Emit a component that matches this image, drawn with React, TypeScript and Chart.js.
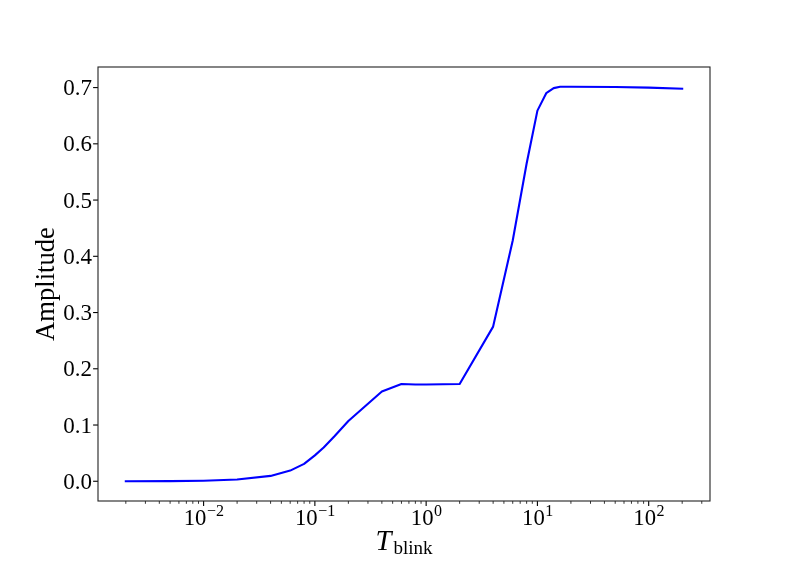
import React, { useEffect, useRef } from 'react';
import { Chart, registerables } from 'chart.js';

Chart.register(...registerables);

// ---- data ----
const T_BLINK = [0.002, 0.005, 0.01, 0.02, 0.04, 0.06, 0.08, 0.1, 0.12, 0.15, 0.2, 0.4, 0.6, 0.8, 1, 2, 4, 6, 8, 10, 12, 14, 16, 20, 50, 100, 200];
const AMPLITUDE = [0.0, 0.0003, 0.001, 0.003, 0.0095, 0.019, 0.031, 0.046, 0.06, 0.08, 0.107, 0.1595, 0.173, 0.172, 0.172, 0.173, 0.275, 0.428, 0.565, 0.659, 0.69, 0.699, 0.7015, 0.7015, 0.701, 0.7, 0.698];

const Y_TICKS = [0, 0.1, 0.2, 0.3, 0.4, 0.5, 0.6, 0.7];
const X_MAJOR = [0.01, 0.1, 1, 10, 100];
const X_MAJOR_EXP = ['\u22122', '\u22121', '0', '1', '2'];
const X_LABEL_MAIN = 'T';
const X_LABEL_SUB = 'blink';
const Y_LABEL = 'Amplitude';

const X_MIN = Math.pow(10, -2.949);
const X_MAX = Math.pow(10, 2.551);
const Y_MIN = -0.0351;
const Y_MAX = 0.7366;

const SERIF = '"Liberation Serif", "DejaVu Serif", serif';

const axesPlugin = {
  id: 'mplAxes',
  afterDraw(chart: any) {
    const ctx: CanvasRenderingContext2D = chart.ctx;
    const xs = chart.scales.x;
    const ys = chart.scales.y;
    const a = chart.chartArea;
    ctx.save();
    ctx.fillStyle = '#000';
    ctx.strokeStyle = '#000';

    // y ticks + labels
    ctx.lineWidth = 1.1;
    ctx.font = `23px ${SERIF}`;
    ctx.textAlign = 'right';
    ctx.textBaseline = 'alphabetic';
    for (const v of Y_TICKS) {
      const py = ys.getPixelForValue(v);
      ctx.beginPath();
      ctx.moveTo(a.left - 4.9, py);
      ctx.lineTo(a.left, py);
      ctx.stroke();
      ctx.fillText(v.toFixed(1), 92, py + 7.5);
    }

    // x minor ticks
    ctx.lineWidth = 0.8;
    for (let e = -4; e <= 3; e++) {
      for (let k = 2; k <= 9; k++) {
        const v = k * Math.pow(10, e);
        if (v < X_MIN || v > X_MAX) continue;
        const px = xs.getPixelForValue(v);
        ctx.beginPath();
        ctx.moveTo(px, a.bottom);
        ctx.lineTo(px, a.bottom + 2.8);
        ctx.stroke();
      }
    }
    // x major ticks + labels
    ctx.lineWidth = 1.1;
    X_MAJOR.forEach((v, i) => {
      const px = xs.getPixelForValue(v);
      ctx.beginPath();
      ctx.moveTo(px, a.bottom);
      ctx.lineTo(px, a.bottom + 4.9);
      ctx.stroke();
      const baseFont = `22.7px ${SERIF}`;
      const supFont = `16px ${SERIF}`;
      ctx.font = baseFont;
      const w1 = ctx.measureText('10').width;
      ctx.font = supFont;
      const w2 = ctx.measureText(X_MAJOR_EXP[i]).width;
      const x0 = px - (w1 + w2) / 2;
      ctx.textAlign = 'left';
      ctx.font = baseFont;
      ctx.fillText('10', x0, a.bottom + 24);
      ctx.font = supFont;
      ctx.fillText(X_MAJOR_EXP[i], x0 + w1 + 0.5, a.bottom + 15);
    });

    // frame
    ctx.lineWidth = 1.1;
    ctx.strokeStyle = '#222';
    ctx.strokeRect(a.left, a.top, a.right - a.left, a.bottom - a.top);

    // x title
    const cx = (a.left + a.right) / 2;
    const tFont = `italic 28.7px ${SERIF}`;
    const sFont = `19px ${SERIF}`;
    ctx.font = tFont;
    const wT = ctx.measureText(X_LABEL_MAIN).width;
    ctx.font = sFont;
    const wS = ctx.measureText(X_LABEL_SUB).width;
    const sx = cx - (wT + 2 + wS) / 2;
    ctx.textAlign = 'left';
    ctx.font = tFont;
    ctx.fillText(X_LABEL_MAIN, sx, 549.5);
    ctx.font = sFont;
    ctx.fillText(X_LABEL_SUB, sx + wT + 2, 553.7);

    // y title
    ctx.save();
    ctx.translate(46.7, (a.top + a.bottom) / 2);
    ctx.rotate(-Math.PI / 2);
    ctx.font = `26.6px ${SERIF}`;
    ctx.textAlign = 'center';
    ctx.textBaseline = 'middle';
    ctx.fillText(Y_LABEL, 0, 0);
    ctx.restore();

    ctx.restore();
  },
};

export default function App() {
  const ref = useRef<HTMLCanvasElement>(null);
  useEffect(() => {
    const points = T_BLINK.map((t, i) => ({ x: t, y: AMPLITUDE[i] }));
    const chart = new Chart(ref.current!, {
      type: 'line',
      data: {
        datasets: [
          {
            data: points,
            borderColor: '#0000ff',
            backgroundColor: '#0000ff',
            borderWidth: 2.1,
            pointRadius: 0,
            tension: 0,
            fill: false,
            borderJoinStyle: 'round',
            borderCapStyle: 'square',
          },
        ],
      },
      options: {
        responsive: false,
        animation: false,
        devicePixelRatio: 1,
        layout: { padding: { left: 98, right: 79, top: 67, bottom: 63 } },
        plugins: { legend: { display: false }, tooltip: { enabled: false } },
        scales: {
          x: { type: 'logarithmic', min: X_MIN, max: X_MAX, display: false },
          y: { type: 'linear', min: Y_MIN, max: Y_MAX, display: false },
        },
      },
      plugins: [axesPlugin],
    });
    return () => chart.destroy();
  }, []);
  return (
    <div style={{ position: 'absolute', left: 0, top: 0, width: 789, height: 564, background: '#fff' }}>
      <canvas ref={ref} width={789} height={564} style={{ display: 'block' }} />
    </div>
  );
}
